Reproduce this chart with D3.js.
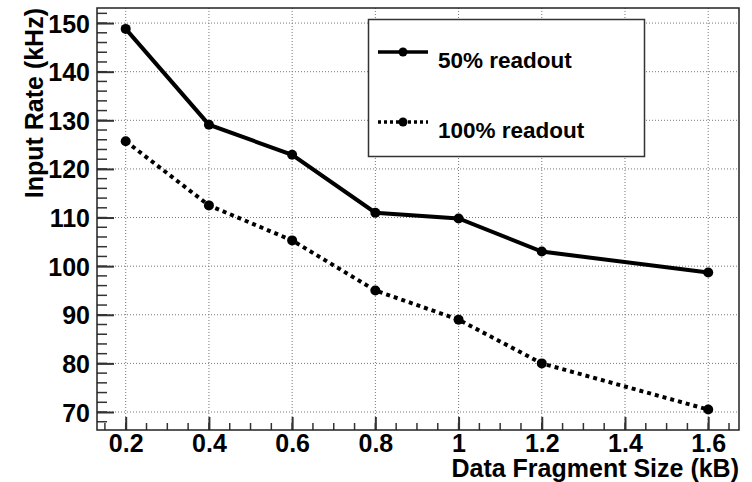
<!DOCTYPE html>
<html>
<head>
<meta charset="utf-8">
<script src="https://cdn.jsdelivr.net/npm/d3@7"></script>
<style>
  body { margin: 0; background: white; }
  text { font-family: "Liberation Sans", Arial, sans-serif; font-weight: bold; fill: #000; }
</style>
</head>
<body>
<div id="chart"></div>
<script>
var sizes = [0.2, 0.4, 0.6, 0.8, 1.0, 1.2, 1.6];
var rate50 = [148.8, 129.1, 122.9, 111.0, 109.8, 103.0, 98.7];
var rate100 = [125.7, 112.5, 105.3, 95.0, 89.0, 80.0, 70.5];
var xTicks = [0.2, 0.4, 0.6, 0.8, 1, 1.2, 1.4, 1.6];
var yTicks = [70, 80, 90, 100, 110, 120, 130, 140, 150];
var seriesNames = ["50% readout", "100% readout"];

var width = 752, height = 482;
var padL = 97, padR = 739, padT = 8, padB = 430;

var svg = d3.select("#chart").append("svg")
  .attr("width", width)
  .attr("height", height);

var x = d3.scaleLinear().domain([0.131, 1.674]).range([padL, padR]);
var y = d3.scaleLinear().domain([66.3, 153.1]).range([padB, padT]);

// grid
var grid = svg.append("g").attr("class", "grid");
grid.selectAll("line.gx")
  .data(xTicks)
  .enter().append("line")
   .attr("x1", d => x(d)).attr("x2", d => x(d))
   .attr("y1", padT).attr("y2", padB)
   .attr("stroke", "#777").attr("stroke-width", 1)
   .attr("stroke-dasharray", "1,2");
grid.selectAll("line.gy")
  .data(yTicks)
  .enter().append("line")
   .attr("x1", padL).attr("x2", padR)
   .attr("y1", d => y(d)).attr("y2", d => y(d))
   .attr("stroke", "#777").attr("stroke-width", 1)
   .attr("stroke-dasharray", "1,2");

// minor ticks
var xMinor = d3.range(0.15, 1.67, 0.05);
var yMinor = d3.range(68, 153, 2);

svg.append("g")
  .selectAll("line")
  .data(xMinor)
  .enter().append("line")
   .attr("x1", d => x(d)).attr("x2", d => x(d))
   .attr("y1", padB).attr("y2", padB - 7)
   .attr("stroke", "#333").attr("stroke-width", 1.5);
svg.append("g")
  .selectAll("line")
  .data(yMinor)
  .enter().append("line")
   .attr("x1", padL).attr("x2", padL + 10)
   .attr("y1", d => y(d)).attr("y2", d => y(d))
   .attr("stroke", "#333").attr("stroke-width", 1.5);

// axes
var xAxis = d3.axisBottom(x).tickValues(xTicks).tickSize(-13).tickPadding(20)
  .tickFormat(d3.format("~g"));
var yAxis = d3.axisLeft(y).tickValues(yTicks).tickSize(-17).tickPadding(8);

var gx = svg.append("g").attr("transform", "translate(0," + padB + ")").call(xAxis);
var gy = svg.append("g").attr("transform", "translate(" + padL + ",0)").call(yAxis);
[gx, gy].forEach(function (g) {
  g.select(".domain").remove();
  g.attr("font-family", null).attr("font-size", null);
  g.selectAll(".tick line").attr("stroke", "#333").attr("stroke-width", 2);
  g.selectAll("text").style("font-size", "25px").attr("fill", "#000");
});
gx.selectAll("text").attr("dy", null).attr("y", 22);
gy.selectAll("text").attr("x", -7).attr("dy", "0.36em");

// frame
svg.append("rect")
  .attr("x", padL).attr("y", padT)
  .attr("width", padR - padL).attr("height", padB - padT)
  .attr("fill", "none").attr("stroke", "#222").attr("stroke-width", 1.5);

// lines
var line = d3.line()
  .x((d, i) => x(sizes[i]))
  .y(d => y(d));

svg.append("path")
  .datum(rate50)
  .attr("d", line)
  .attr("fill", "none").attr("stroke", "#000").attr("stroke-width", 4);
svg.append("path")
  .datum(rate100)
  .attr("d", line)
  .attr("fill", "none").attr("stroke", "#000").attr("stroke-width", 4)
  .attr("stroke-dasharray", "4,4");

[rate50, rate100].forEach(function (vals) {
  svg.append("g")
    .selectAll("circle")
    .data(vals)
    .enter().append("circle")
     .attr("cx", (d, i) => x(sizes[i]))
     .attr("cy", d => y(d))
     .attr("r", 5)
     .attr("fill", "#000");
});

// legend
var legend = svg.append("g");
legend.append("rect")
  .attr("x", 368.5).attr("y", 19.5)
  .attr("width", 276).attr("height", 137)
  .attr("fill", "white").attr("stroke", "#333").attr("stroke-width", 1.5);

var legendY = [52, 122];
seriesNames.forEach(function (name, i) {
  legend.append("line")
    .attr("x1", 378).attr("x2", 428)
    .attr("y1", legendY[i]).attr("y2", legendY[i])
    .attr("stroke", "#000").attr("stroke-width", 3.5)
    .attr("stroke-dasharray", i === 0 ? null : "3,3");
  legend.append("circle")
    .attr("cx", 403).attr("cy", legendY[i]).attr("r", 4.5).attr("fill", "#000");
  legend.append("text")
    .attr("x", 438).attr("y", legendY[i] + 16)
    .style("font-size", "22.5px")
    .text(name);
});

// axis titles
svg.append("text")
  .attr("x", padR).attr("y", 477)
  .attr("text-anchor", "end")
  .style("font-size", "25px")
  .text("Data Fragment Size (kB)");
svg.append("text")
  .attr("transform", "translate(43," + padT + ") rotate(-90)")
  .attr("text-anchor", "end")
  .style("font-size", "25px")
  .text("Input Rate (kHz)");
</script>
</body>
</html>
